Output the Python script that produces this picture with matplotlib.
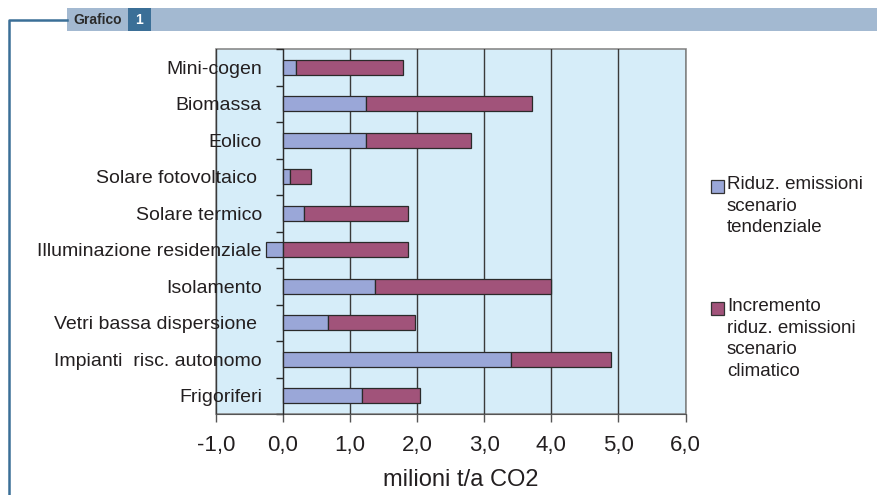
import numpy as np
import matplotlib
matplotlib.use("Agg")
import matplotlib.pyplot as plt
from matplotlib.patches import Rectangle
from matplotlib.lines import Line2D
from matplotlib.ticker import FixedLocator

plt.rcParams["font.family"] = ["Liberation Sans", "DejaVu Sans"]

# categories listed bottom -> top
categorie = ["Frigoriferi", "Impianti  risc. autonomo", "Vetri bassa dispersione ",
             "Isolamento", "Illuminazione residenziale", "Solare termico",
             "Solare fotovoltaico ", "Eolico", "Biomassa", "Mini-cogen"]
# milioni t/a CO2
riduz_tendenziale = [1.18, 3.40, 0.67, 1.37, -0.25, 0.32, 0.10, 1.24, 1.24, 0.19]
incremento_climatico = [0.86, 1.49, 1.30, 2.63, 1.87, 1.55, 0.32, 1.56, 2.48, 1.60]
x_ticks = [-1, 0, 1, 2, 3, 4, 5, 6]

C_TEND = "#9aa7d8"
C_CLIM = "#a1537a"
C_BG = "#d6edf9"
C_TXT = "#231f20"
C_HEAD = "#a3b9d1"
C_BLUE = "#3b6f97"

W, H = 877, 495
fig = plt.figure(figsize=(W / 100, H / 100), dpi=100)


def fx(px):
    return px / W


def fy(py):
    return 1 - py / H


ax = fig.add_axes([fx(215.7), fy(414), fx(685.5) - fx(215.7), fy(49) - fy(414)])
ax.set_facecolor(C_BG)
ax.patch.set_edgecolor("#8a8a8a")
ax.patch.set_linewidth(1.2)

y = np.arange(len(categorie))
tend = np.array(riduz_tendenziale)
clim = np.array(incremento_climatico)
ax.barh(y, tend, height=0.4, color=C_TEND, edgecolor="#2a2a2a", linewidth=0.9, zorder=3)
ax.barh(y, clim, left=np.clip(tend, 0, None), height=0.4, color=C_CLIM,
        edgecolor="#2a2a2a", linewidth=0.9, zorder=3)

ax.set_xlim(-1, 6)
ax.set_ylim(-0.5, len(categorie) - 0.5)

# vertical grid
ax.set_xticks(x_ticks)
ax.set_xticklabels([f"{v:.1f}".replace(".", ",") for v in x_ticks],
                   fontsize=16, color=C_TXT)
ax.xaxis.grid(True, color="#3a3a3a", linewidth=1.0, zorder=1)
ax.set_axisbelow(True)
ax.tick_params(axis="x", direction="out", length=6, width=1.0, color="#555555", pad=9)

# category axis sits on zero
ax.spines["left"].set_position(("data", 0))
ax.spines["left"].set_color("#2a2a2a")
ax.spines["left"].set_zorder(4)
ax.spines["bottom"].set_color("#555555")
for s in ("top", "right"):
    ax.spines[s].set_visible(False)
ax.set_yticks(y)
ax.set_yticklabels(categorie, fontsize=14, color=C_TXT)
ax.yaxis.set_minor_locator(FixedLocator(np.arange(-0.5, len(categorie), 1.0)))
ax.tick_params(axis="y", which="major", length=0, pad=15)
ax.tick_params(axis="y", which="minor", direction="out", length=5, width=1.0, color="#2a2a2a")

ax.set_xlabel("milioni t/a CO2", fontsize=17, color=C_TXT)
ax.xaxis.set_label_coords(0.522, -0.15)

# legend
legenda = [(180, C_TEND, "Riduz. emissioni\nscenario\ntendenziale"),
           (302, C_CLIM, "Incremento\nriduz. emissioni\nscenario\nclimatico")]
for top, col, txt in legenda:
    fig.patches.append(Rectangle((fx(711), fy(top + 13)), fx(13), fy(0) - fy(13),
                                 transform=fig.transFigure, facecolor=col,
                                 edgecolor="#333333", linewidth=0.9))
    fig.text(fx(727), fy(top - 4), txt, fontsize=13.5, color=C_TXT,
             va="top", ha="left", linespacing=1.36)

# header band
fig.patches.append(Rectangle((fx(67), fy(31)), 1 - fx(67), fy(8) - fy(31),
                             transform=fig.transFigure, facecolor=C_HEAD, edgecolor="none"))
fig.patches.append(Rectangle((fx(128), fy(31)), fx(23), fy(8) - fy(31),
                             transform=fig.transFigure, facecolor=C_BLUE, edgecolor="none"))
fig.text(fx(73), fy(19.5), "Grafico", fontsize=10, fontweight="bold",
         color="#2b2b2b", va="center", ha="left")
fig.text(fx(139.5), fy(19.5), "1", fontsize=10, fontweight="bold",
         color="white", va="center", ha="center")
fig.lines.append(Line2D([fx(67), fx(8.5), fx(8.5)], [fy(20), fy(20), fy(495)],
                        transform=fig.transFigure, color=C_BLUE, linewidth=1.8))

fig.savefig("out.png", dpi=100)
